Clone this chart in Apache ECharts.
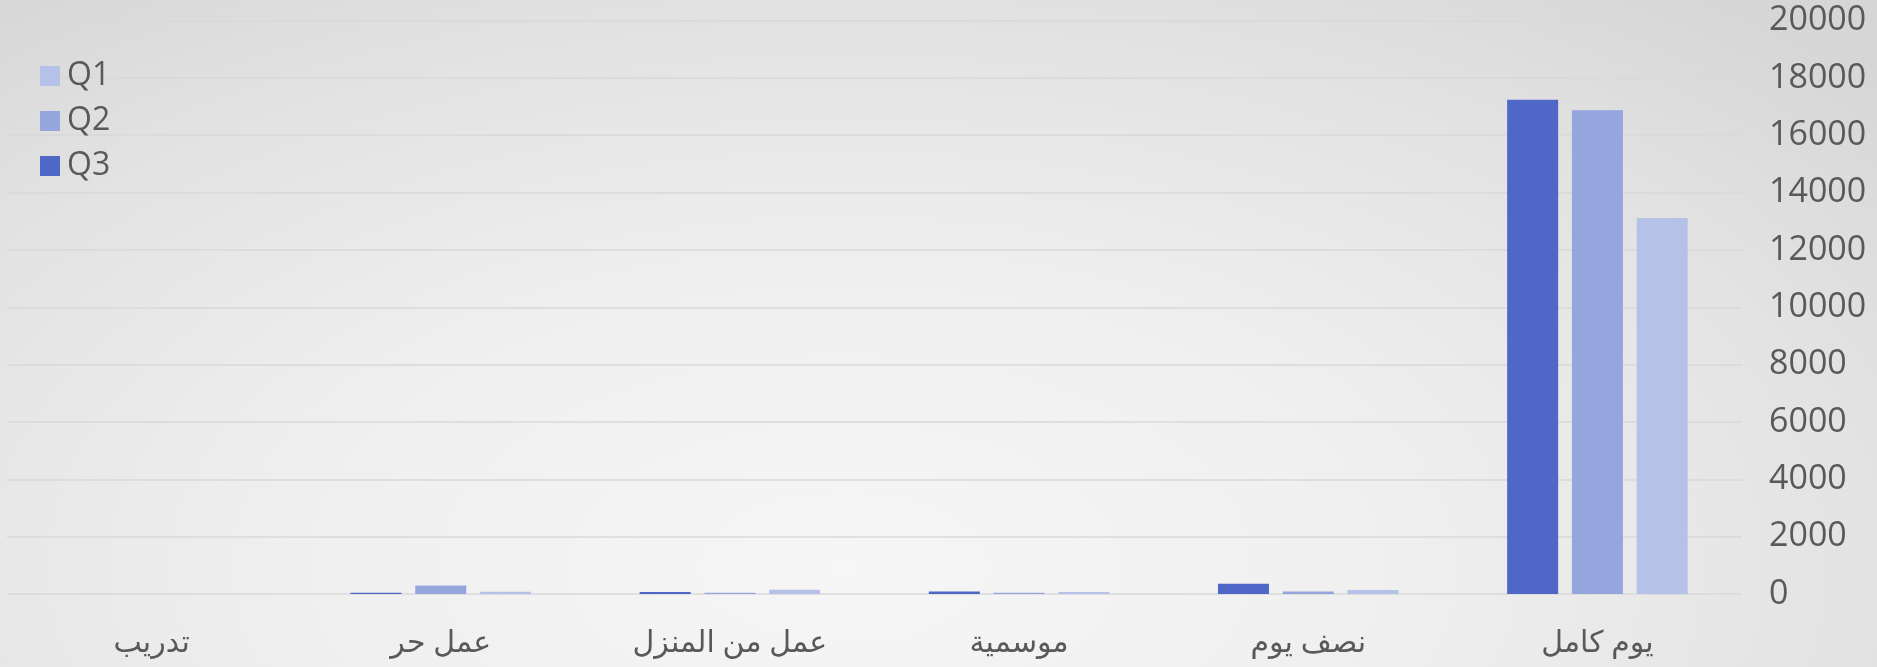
<!DOCTYPE html>
<html><head><meta charset="utf-8">
<script src="https://cdn.jsdelivr.net/npm/echarts@6/dist/echarts.min.js"></script>
<style>
html,body{margin:0;padding:0;}
#c{width:1877px;height:667px;background:radial-gradient(ellipse 75% 110% at 45% 85%, #f6f6f6 0%, #efefef 40%, #e2e2e2 75%, #d6d6d6 100%);}
</style></head>
<body><div id="c"></div>
<script>
const categories = ['يوم كامل', 'نصف يوم', 'موسمية', 'عمل من المنزل', 'عمل حر', 'تدريب'];
const q1 = [13110, 140, 70, 150, 80, 0];
const q2 = [16870, 90, 45, 40, 300, 0];
const q3 = [17240, 360, 90, 70, 40, 0];
const yTicks = {min: 0, max: 20000, interval: 2000};

const colors = {Q1: '#b6c1e8', Q2: '#95a5de', Q3: '#4f68c8'};
const font = "'Open Sans', 'DejaVu Sans', sans-serif";
const chart = echarts.init(document.getElementById('c'));
chart.setOption({
  backgroundColor: 'transparent',
  animation: false,
  grid: {left: 7, right: 135, top: 20.5, bottom: 73, containLabel: false},
  legend: {
    orient: 'vertical', left: 35, top: 55,
    data: ['Q1', 'Q2', 'Q3'],
    itemWidth: 20, itemHeight: 20, itemGap: 13,
    icon: 'rect',
    textStyle: {color: '#595959', fontSize: 32, lineHeight: 30, fontFamily: font, padding: [0, 0, 0, 2]}
  },
  xAxis: {
    type: 'category', data: categories, inverse: true,
    axisLine: {show: false}, axisTick: {show: false},
    axisLabel: {color: '#595959', fontSize: 30, fontFamily: font, margin: 34}
  },
  yAxis: {
    type: 'value', position: 'right', min: yTicks.min, max: yTicks.max, interval: yTicks.interval,
    axisLine: {show: false}, axisTick: {show: false},
    axisLabel: {color: '#595959', fontSize: 34, fontFamily: font, margin: 27, formatter: v => String(v)},
    splitLine: {lineStyle: {color: '#d9d9d9', width: 1.5}}
  },
  series: [
    {name: 'Q3', type: 'bar', data: q3, itemStyle: {color: colors.Q3}, barWidth: 51, barGap: '27%', barCategoryGap: '37%'},
    {name: 'Q2', type: 'bar', data: q2, itemStyle: {color: colors.Q2}, barWidth: 51, barGap: '27%'},
    {name: 'Q1', type: 'bar', data: q1, itemStyle: {color: colors.Q1}, barWidth: 51, barGap: '27%'}
  ]
});
</script></body></html>
